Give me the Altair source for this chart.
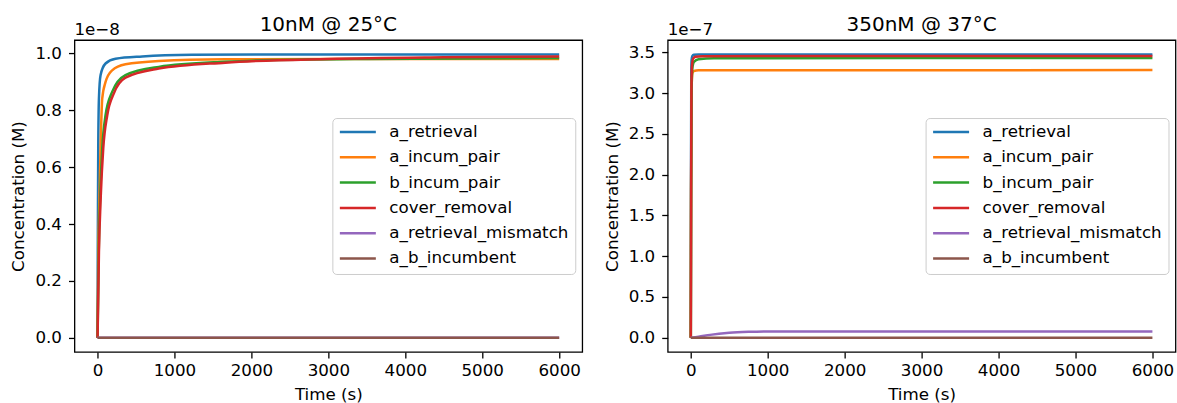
import altair as alt
import pandas as pd

SERIES = ["a_retrieval", "a_incum_pair", "b_incum_pair", "cover_removal",
          "a_retrieval_mismatch", "a_b_incumbent"]
COLORS = ["#1f77b4", "#ff7f0e", "#2ca02c", "#d62728", "#9467bd", "#8c564b"]

X_TICKS = [0, 1000, 2000, 3000, 4000, 5000, 6000]

# ---------- left panel: 10nM @ 25°C (values in units of 1e-8 M) ----------
L_SCALE = 1e-8
L_T_A_RETRIEVAL = [0, 3, 6, 9, 18, 39, 104, 234, 580, 1228, 2500, 6000]
L_V_A_RETRIEVAL = [0, 0.30, 0.50, 0.666, 0.842, 0.924, 0.965, 0.982, 0.990, 0.9955, 0.997, 0.997]
L_T_A_INCUM = [0, 10, 25, 39, 61, 104, 190, 363, 796, 1660, 3000, 6000]
L_V_A_INCUM = [0, 0.30, 0.50, 0.666, 0.842, 0.900, 0.941, 0.962, 0.974, 0.980, 0.981, 0.981]
L_T_B_INCUM = [0, 15, 35, 61, 104, 190, 363, 796, 1660, 2006, 3500, 6000]
L_V_B_INCUM = [0, 0.30, 0.50, 0.666, 0.783, 0.865, 0.924, 0.953, 0.971, 0.975, 0.981, 0.984]
L_T_COVER = [0, 18, 42, 74, 126, 212, 363, 796, 1660, 3000, 4500, 6000]
L_V_COVER = [0, 0.30, 0.50, 0.666, 0.783, 0.860, 0.915, 0.947, 0.968, 0.981, 0.987, 0.990]
L_T_MISMATCH = [0, 6000]
L_V_MISMATCH = [0, 0]
L_T_AB = [0, 6000]
L_V_AB = [0, 0]
L_Y_TICKS = [0, 0.2, 0.4, 0.6, 0.8, 1.0]
L_Y_DOMAIN = [-0.0499, 1.0474]

# ---------- right panel: 350nM @ 37°C (values in units of 1e-7 M) ----------
R_SCALE = 1e-7
R_T_A_RETRIEVAL = [0, 3, 6, 10, 20, 40, 100, 6000]
R_V_A_RETRIEVAL = [0, 2.0, 3.2, 3.40, 3.455, 3.468, 3.472, 3.473]
R_T_A_INCUM = [0, 4, 10, 20, 40, 100, 6000]
R_V_A_INCUM = [0, 1.8, 3.05, 3.24, 3.27, 3.278, 3.281]
R_T_B_INCUM = [0, 4, 10, 20, 40, 100, 300, 6000]
R_V_B_INCUM = [0, 1.7, 3.0, 3.30, 3.38, 3.415, 3.425, 3.43]
R_T_COVER = [0, 4, 8, 15, 30, 60, 150, 6000]
R_V_COVER = [0, 1.8, 3.0, 3.33, 3.42, 3.445, 3.452, 3.455]
R_T_MISMATCH = [0, 100, 250, 500, 750, 1000, 1500, 2000, 6000]
R_V_MISMATCH = [0, 0.012, 0.035, 0.060, 0.072, 0.077, 0.078, 0.078, 0.078]
R_T_AB = [0, 6000]
R_V_AB = [0, 0]
R_Y_TICKS = [0, 0.5, 1.0, 1.5, 2.0, 2.5, 3.0, 3.5]
R_Y_DOMAIN = [-0.174, 3.649]

FS = 16.7
LW = 2.5


def build_df(pairs, scale):
    rows = []
    for name, (ts, vs) in zip(SERIES, pairs):
        for t, v in zip(ts, vs):
            rows.append({"t": t, "c": v * scale, "series": name})
    return pd.DataFrame(rows)


left_df = build_df([(L_T_A_RETRIEVAL, L_V_A_RETRIEVAL), (L_T_A_INCUM, L_V_A_INCUM),
                    (L_T_B_INCUM, L_V_B_INCUM), (L_T_COVER, L_V_COVER),
                    (L_T_MISMATCH, L_V_MISMATCH), (L_T_AB, L_V_AB)], L_SCALE)
right_df = build_df([(R_T_A_RETRIEVAL, R_V_A_RETRIEVAL), (R_T_A_INCUM, R_V_A_INCUM),
                     (R_T_B_INCUM, R_V_B_INCUM), (R_T_COVER, R_V_COVER),
                     (R_T_MISMATCH, R_V_MISMATCH), (R_T_AB, R_V_AB)], R_SCALE)


def panel(df, title, scale, ticks, domain, exp_label):
    mult = 1.0 / scale
    x = alt.X("t:Q", scale=alt.Scale(domain=[-300, 6300], nice=False, zero=False),
              axis=alt.Axis(values=X_TICKS, title="Time (s)", format="d"))
    y = alt.Y("c:Q", scale=alt.Scale(domain=[d * scale for d in domain], nice=False, zero=False),
              axis=alt.Axis(values=[v * scale for v in ticks],
                            labelExpr=f"format(datum.value*{mult}, '.1f')",
                            title="Concentration (M)"))
    color = alt.Color("series:N", title=None,
                      scale=alt.Scale(domain=SERIES, range=COLORS),
                      legend=alt.Legend(orient="none", legendX=258, legendY=78,
                                        symbolType="stroke", symbolSize=1296,
                                        symbolStrokeWidth=LW, clipHeight=16,
                                        rowPadding=8.3, labelFontSize=FS,
                                        labelOffset=12, padding=6,
                                        strokeColor="#cccccc", fillColor="white",
                                        cornerRadius=4, labelColor="black",
                                        labelLimit=400))
    lines = alt.Chart(df).mark_line(strokeWidth=LW, interpolate="monotone").encode(
        x=x, y=y, color=color)
    exp = alt.Chart(pd.DataFrame({"label": [exp_label]})).mark_text(
        align="left", baseline="alphabetic", fontSize=FS, color="black").encode(
        x=alt.value(0), y=alt.value(-5), text="label:N")
    return alt.layer(lines, exp).properties(
        width=508, height=312,
        title=alt.TitleParams(title, fontSize=20, fontWeight="normal", color="black",
                              anchor="middle", frame="group", baseline="alphabetic",
                              offset=-29))


left = panel(left_df, "10nM @ 25°C", L_SCALE, L_Y_TICKS, L_Y_DOMAIN, "1e\u22128")
right = panel(right_df, "350nM @ 37°C", R_SCALE, R_Y_TICKS, R_Y_DOMAIN, "1e\u22127")

chart = alt.hconcat(left, right, spacing=19.5).resolve_scale(color="independent").configure(
    font="DejaVu Sans", padding={"left": 9.5, "top": 14, "right": 0, "bottom": 0}
).configure_view(stroke="black", strokeWidth=1.3).configure_axis(
    domain=False, grid=False, ticks=True, tickColor="black", tickSize=6, tickWidth=1.3,
    labelFontSize=FS, labelColor="black", titleFontSize=FS, titleFontWeight="normal",
    titleColor="black"
).configure_axisX(labelPadding=5, titlePadding=6.5).configure_axisY(labelPadding=7, titlePadding=7)

chart.save("out.html", embed_options={"renderer": "svg", "actions": False})
